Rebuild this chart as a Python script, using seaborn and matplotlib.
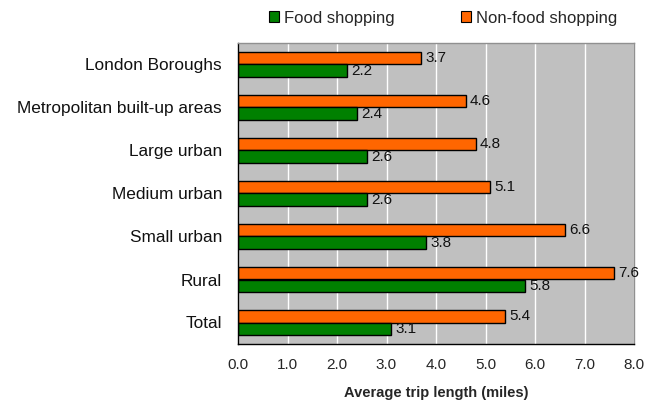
import matplotlib
matplotlib.use("Agg")
import matplotlib.pyplot as plt
import seaborn as sns
import pandas as pd
import numpy as np
from matplotlib.patches import Patch

areas = ["London Boroughs", "Metropolitan built-up areas", "Large urban",
         "Medium urban", "Small urban", "Rural", "Total"]
food = [2.2, 2.4, 2.6, 2.6, 3.8, 5.8, 3.1]
non_food = [3.7, 4.6, 4.8, 5.1, 6.6, 7.6, 5.4]
x_ticks = [0, 1, 2, 3, 4, 5, 6, 7, 8]

FOOD_C = "#008000"
NONFOOD_C = "#FF6600"

df = pd.DataFrame({
    "area": areas * 2,
    "miles": non_food + food,
    "type": ["Non-food shopping"] * len(areas) + ["Food shopping"] * len(areas),
})

sns.set_style("white")
plt.rcParams["font.family"] = ["Liberation Sans", "DejaVu Sans"]

fig = plt.figure(figsize=(6.57, 4.03), dpi=100)
ax = fig.add_axes([238 / 657, 1 - 344 / 403, (634 - 238) / 657, (344 - 43) / 403])

sns.barplot(data=df, y="area", x="miles", hue="type", orient="h",
            hue_order=["Non-food shopping", "Food shopping"],
            palette={"Non-food shopping": NONFOOD_C, "Food shopping": FOOD_C},
            width=0.6, edgecolor="black", linewidth=1.0, saturation=1,
            errorbar=None, legend=False, ax=ax)

for cont in ax.containers:
    ax.bar_label(cont, fmt="%.1f", padding=3, fontsize=11, color="#111111")

ax.set_facecolor("#C0C0C0")
ax.set_xlim(0, 8)
ax.set_ylim(len(areas) - 0.5, -0.5)
ax.set_xticks(x_ticks)
ax.set_xticklabels([f"{v:.1f}" for v in x_ticks], fontsize=11)
ax.xaxis.grid(True, color="white", linewidth=1)
ax.yaxis.grid(False)
ax.set_axisbelow(True)

ax.set_yticks(range(len(areas)))
ax.set_yticklabels(areas, fontsize=12.4, color="#111111")
ax.tick_params(axis="y", which="major", length=0, pad=11.5)
ax.set_yticks(np.arange(-0.5, len(areas), 1), minor=True)
ax.tick_params(axis="y", which="minor", length=5, width=1, color="black", direction="out")
ax.tick_params(axis="x", which="major", length=5, width=1, color="black", direction="out", pad=5)

ax.set_ylabel("")
ax.set_xlabel("Average trip length (miles)", fontsize=10.5, fontweight="bold", labelpad=10)

for side in ["left", "bottom"]:
    ax.spines[side].set_color("black")
    ax.spines[side].set_linewidth(1)
for side in ["top", "right"]:
    ax.spines[side].set_color("#909090")
    ax.spines[side].set_linewidth(1)

handles = [Patch(facecolor=FOOD_C, edgecolor="black", linewidth=0.8),
           Patch(facecolor=NONFOOD_C, edgecolor="black", linewidth=0.8)]
fig.legend(handles, ["Food shopping", "Non-food shopping"], loc="center",
           bbox_to_anchor=(443 / 657, 1 - 18 / 403), ncol=2, frameon=False,
           fontsize=12, handlelength=0.6, handleheight=0.6, handletextpad=0.3,
           columnspacing=4.0)

fig.savefig("out.png", dpi=100)
